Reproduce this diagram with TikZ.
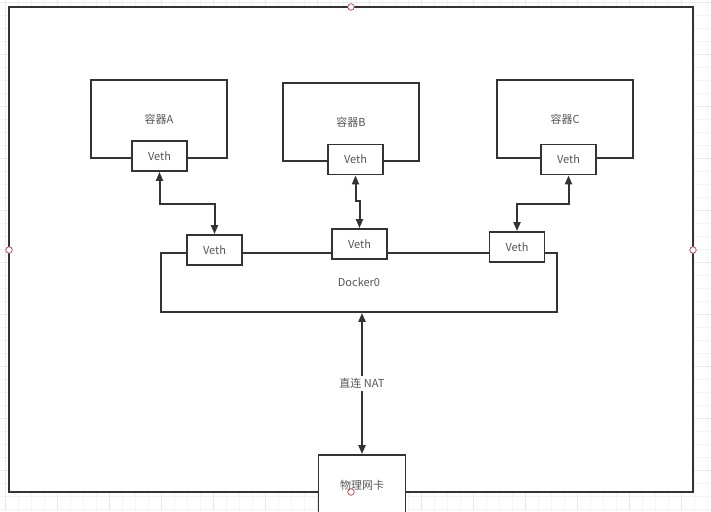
\documentclass[tikz,border=0pt]{standalone}
\usepackage{fontspec}
\setmainfont{Noto Sans CJK SC}
\usetikzlibrary{arrows.meta}
\definecolor{ln}{HTML}{333333}
\definecolor{tx}{HTML}{555555}
\definecolor{gmin}{HTML}{F4F4F4}
\definecolor{gmaj}{HTML}{EAEAEA}
\definecolor{hdl}{HTML}{B0404E}
\tikzset{
  box/.style={draw=ln, line width=1.8pt, rectangle, inner sep=0pt, text=tx, font=\fontsize{11}{13}\selectfont},
  vethbox/.style={box, fill=white, minimum width=55pt, minimum height=30pt},
  cont/.style={box, minimum width=136pt, minimum height=78pt},
  link/.style={draw=ln, line width=2pt, {Triangle[length=9pt,width=7pt]}-{Triangle[length=9pt,width=7pt]}},
  handle/.style={draw=hdl, fill=white, line width=0.7pt, circle, minimum size=6.5pt, inner sep=0pt},
  lbl/.style={fill=white, text=tx, inner sep=2pt, font=\fontsize{11}{13}\selectfont}
}
\begin{document}
\begin{tikzpicture}[x=1pt,y=-1pt]
\useasboundingbox (0,0) rectangle (711,511);
\clip (0,0) rectangle (711,511);
\fill[white] (0,0) rectangle (711,511);
% grid
\foreach \i in {0,...,54} {
  \draw[gmin, line width=0.6pt] ({5+13*\i},0) -- ({5+13*\i},511);
}
\foreach \j in {0,...,39} {
  \draw[gmin, line width=0.6pt] (0,{2+13*\j}) -- (711,{2+13*\j});
}
\foreach \i in {0,...,13} {
  \draw[gmaj, line width=0.6pt] ({5+52*\i},0) -- ({5+52*\i},511);
}
\foreach \j in {0,...,9} {
  \draw[gmaj, line width=0.6pt] (0,{2+52*\j}) -- (711,{2+52*\j});
}
% outer frame
\draw[ln, fill=white, line width=1.8pt] (9,7) rectangle (693,492);

% containers
\node[cont] (cA) at (159,119) {容器A};
\node[cont] (cB) at (351,122) {容器B};
\node[cont] (cC) at (565,119) {容器C};
\node[vethbox] (vA) at (159.5,156) {Veth};
\node[vethbox] (vB) at (355.5,159.5) {Veth};
\node[vethbox] (vC) at (568.5,159.5) {Veth};

% docker0
\node[box, minimum width=396pt, minimum height=59pt] (dk) at (359,282.5) {Docker0};
\node[vethbox] (v1) at (214.5,250) {Veth};
\node[vethbox] (v2) at (359.5,244) {Veth};
\node[vethbox] (v3) at (517,247) {Veth};

% NIC
\node[box, fill=white, minimum width=87pt, minimum height=60pt] (nic) at (362,485) {物理网卡};

% links
\draw[link] (vA.south) -- ++(0,32) -| (v1.north);
\draw[link] (vB.south) -- ++(0,26) -| (v2.north);
\draw[link] (vC.south) -- ++(0,29) -| (v3.north);
\draw[link] (nic.north |- dk.south) -- node[lbl] (nat) {直连 NAT} (nic.north);

% selection handles
\node[handle] (h1) at (351,7) {};
\node[handle] (h2) at (9,250) {};
\node[handle] (h3) at (693,250) {};
\node[handle] (h4) at (351,492) {};
\end{tikzpicture}
\end{document}
